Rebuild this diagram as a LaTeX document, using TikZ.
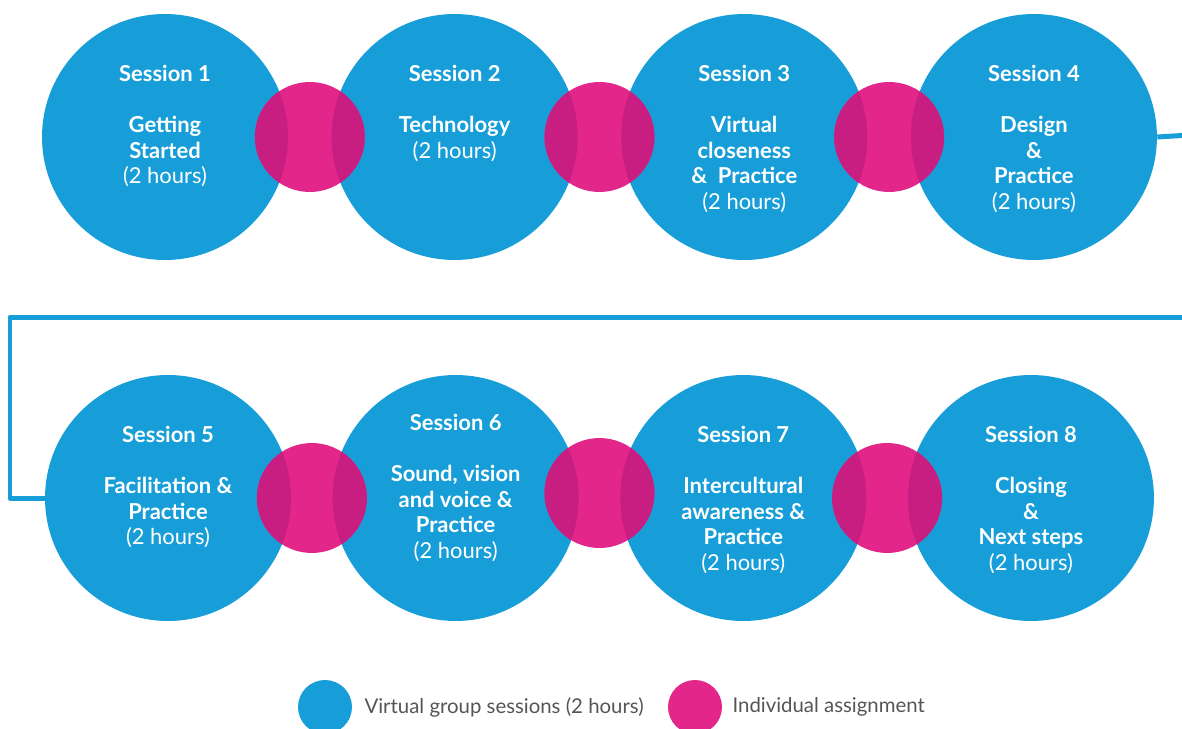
\documentclass[tikz,border=0pt]{standalone}
\usepackage{fontspec}
\setmainfont{Lato}
\usetikzlibrary{positioning, calc}
\definecolor{sessblue}{HTML}{179ED8}
\definecolor{taskpink}{HTML}{E2268A}
\definecolor{overlap}{HTML}{C81D81}
\definecolor{legendgray}{HTML}{555555}

\begin{document}
\begin{tikzpicture}[x=0.02cm, y=-0.02cm, session/.style={circle, fill=sessblue, minimum size=4.92cm, inner sep=0pt}, task/.style={circle, fill=taskpink, minimum size=2.2cm, inner sep=0pt}, sesstext/.style={anchor=north, align=center, text=white, font=\fontsize{12.5}{14.5}\selectfont\bfseries}, legtext/.style={anchor=west, text=legendgray, font=\fontsize{11.6}{14}\selectfont}, link/.style={sessblue, line width=0.1cm, line join=round}, node distance=0.86cm]
        \useasboundingbox (0,0) rectangle (1182,729);
        % first row
        \node[session] (s1) at (165,137) {};
        \node[session, right=of s1] (s2) {};
        \node[session, right=of s2] (s3) {};
        \node[session, right=of s3] (s4) {};
        % second row
        \node[session] (s5) at (168,498) {};
        \node[session, right=0.82cm of s5] (s6) {};
        \node[session, right=0.82cm of s6] (s7) {};
        \node[session, right=0.82cm of s7] (s8) {};
        % connector
        \coordinate (edge1) at (1190,135);
        \coordinate (edge2) at (1190,317);
        \coordinate (bend) at (10,317);
        \draw[link] (s4.east) -- (edge1);
        \draw[link] (edge2) -- (bend) |- (s5.west);
        % assignments
        \node[task] (p1) at ($(s1)!0.5!(s2)$) {};
        \node[task] (p2) at ($(s2)!0.5!(s3)$) {};
        \node[task] (p3) at ($(s3)!0.5!(s4)$) {};
        \node[task] (p4) at ($(s5)!0.5!(s6)$) {};
        \node[task] (p5) at ($(s6)!0.5!(s7) + (0,-5)$) {};
        \node[task] (p6) at ($(s7)!0.5!(s8)$) {};
        \foreach \p/\a/\b in {p1/s1/s2, p2/s2/s3, p3/s3/s4, p4/s5/s6, p5/s6/s7, p6/s7/s8} {
            \begin{scope}
                \clip (\a) circle[radius=2.46cm];
                \fill[overlap] (\p) circle[radius=1.1cm];
            \end{scope}
            \begin{scope}
                \clip (\b) circle[radius=2.46cm];
                \fill[overlap] (\p) circle[radius=1.1cm];
            \end{scope}
        }
        % texts
        \node[sesstext] (t1) at ([yshift=-0.9cm]s1.north) {Session 1\\[15pt]Getting\\Started\\{\mdseries(2 hours)}};
        \node[sesstext] (t2) at ([yshift=-0.9cm]s2.north) {Session 2\\[15pt]Technology\\{\mdseries(2 hours)}};
        \node[sesstext] (t3) at ([yshift=-0.9cm]s3.north) {Session 3\\[15pt]Virtual\\closeness\\\&~~Practice\\{\mdseries(2 hours)}};
        \node[sesstext] (t4) at ([yshift=-0.9cm]s4.north) {Session 4\\[15pt]Design\\\&\\Practice\\{\mdseries(2 hours)}};
        \node[sesstext] (t5) at ([yshift=-0.9cm]s5.north) {Session 5\\[15pt]Facilitation \&\\Practice\\{\mdseries(2 hours)}};
        \node[sesstext] (t6) at ([yshift=-0.66cm]s6.north) {Session 6\\[15pt]Sound, vision\\and voice \&\\Practice\\{\mdseries(2 hours)}};
        \node[sesstext] (t7) at ([yshift=-0.9cm]s7.north) {Session 7\\[15pt]Intercultural\\awareness \&\\Practice\\{\mdseries(2 hours)}};
        \node[sesstext] (t8) at ([yshift=-0.9cm]s8.north) {Session 8\\[15pt]Closing\\\&\\Next steps\\{\mdseries(2 hours)}};
        % legend
        \node[circle, fill=sessblue, minimum size=1.08cm] (lg1) at (325,707) {};
        \node[legtext, right=0.12cm of lg1] (lt1) {Virtual group sessions (2 hours)};
        \node[circle, fill=taskpink, minimum size=1.08cm] (lg2) at (695,707) {};
        \node[legtext, right=0.08cm of lg2] (lt2) {Individual assignment};
\end{tikzpicture}
\end{document}
